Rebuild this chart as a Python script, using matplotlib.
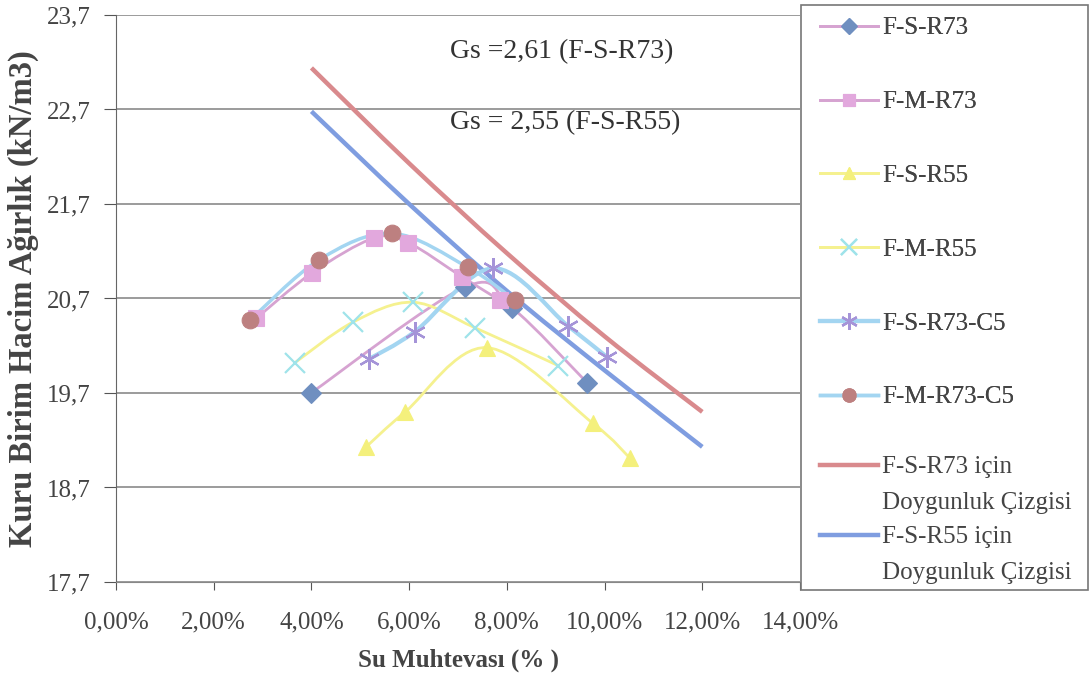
import numpy as np
import matplotlib
matplotlib.use('Agg')
import matplotlib.pyplot as plt
from matplotlib.path import Path
from matplotlib.patches import PathPatch, Rectangle
from matplotlib.lines import Line2D
from matplotlib.ticker import FuncFormatter, MultipleLocator

plt.rcParams['font.family'] = ['Liberation Serif', 'DejaVu Serif']

### Kompaksiyon egrileri: su muhtevasi (%) - kuru birim hacim agirlik (kN/m3) ###

fs_r73_w = [3.99, 7.14, 8.11, 9.64]
fs_r73_g = [19.70, 20.82, 20.60, 19.81]

fm_r73_w = [2.87, 4.01, 5.28, 5.98, 7.08, 7.86]
fm_r73_g = [20.49, 20.97, 21.34, 21.29, 20.93, 20.68]

fs_r55_w = [5.12, 5.92, 7.59, 9.76, 10.52]
fs_r55_g = [19.13, 19.50, 20.18, 19.38, 19.01]

fm_r55_w = [3.66, 4.85, 6.08, 7.35, 9.05]
fm_r55_g = [20.02, 20.45, 20.66, 20.39, 19.99]

fs_r73_c5_w = [5.18, 6.12, 7.72, 9.25, 10.05]
fs_r73_c5_g = [20.06, 20.35, 21.02, 20.41, 20.08]

fm_r73_c5_w = [2.74, 4.16, 5.65, 7.20, 8.17]
fm_r73_c5_g = [20.47, 21.11, 21.39, 21.03, 20.68]

# doygunluk cizgileri
sat_w = [4, 6, 8, 10, 12]
sat_r73_g = [23.14, 22.13, 21.18, 20.30, 19.50]
sat_r55_g = [22.68, 21.70, 20.78, 19.94, 19.13]

pink = '#d6a3d1'
yellow = '#f5f18f'
lblue = '#a3d5f1'

series = [
    # label, w, g, line colour, line width, marker, marker colour, marker size
    ('F-S-R73', fs_r73_w, fs_r73_g, pink, 2.0, 'D', '#6f8fc0', 10),
    ('F-M-R73', fm_r73_w, fm_r73_g, pink, 2.0, 's', '#e2a8dd', 11),
    ('F-S-R55', fs_r55_w, fs_r55_g, yellow, 2.0, '^', '#f4f07c', 11),
    ('F-M-R55', fm_r55_w, fm_r55_g, yellow, 2.0, 'x', '#9fe3ea', 14),
    ('F-S-R73-C5', fs_r73_c5_w, fs_r73_c5_g, lblue, 3.0, (6, 2, 0), '#a594d8', 15),
    ('F-M-R73-C5', fm_r73_c5_w, fm_r73_c5_g, lblue, 2.5, 'o', '#bd8080', 12),
]


def smooth_path(x, y):
    # bezier egrisi, her noktada komsu noktalara gore teget
    pts = np.column_stack([x, y]).astype(float)
    n = len(pts)
    verts = [pts[0]]
    codes = [Path.MOVETO]
    for i in range(n - 1):
        p0 = pts[i - 1] if i > 0 else pts[i]
        p1 = pts[i]
        p2 = pts[i + 1]
        p3 = pts[i + 2] if i + 2 < n else pts[i + 1]
        verts += [p1 + (p2 - p0) / 6, p2 - (p3 - p1) / 6, p2]
        codes += [Path.CURVE4] * 3
    return Path(verts, codes)


fig = plt.figure(figsize=(10.92, 6.83), dpi=100)
ax = fig.add_axes([116 / 1092, 1 - 582 / 683, 684 / 1092, 567 / 683])

ax.add_patch(PathPatch(smooth_path(sat_w, sat_r73_g), fc='none', ec='#d98a8d', lw=3.2, zorder=2))
ax.add_patch(PathPatch(smooth_path(sat_w, sat_r55_g), fc='none', ec='#7f9de0', lw=3.2, zorder=2))

handles = []
for lab, w, g, lc, lw, mk, mc, ms in series:
    ax.add_patch(PathPatch(smooth_path(w, g), fc='none', ec=lc, lw=lw, zorder=3))
    mew = 1.6 if mk in ('x', (6, 2, 0)) else 0.8
    ax.plot(w, g, linestyle='none', marker=mk, markersize=ms, color=mc,
            markeredgecolor=mc, markeredgewidth=mew, zorder=4)
    handles.append(Line2D([], [], color=lc, lw=lw, marker=mk, markersize=ms * 0.8,
                          markerfacecolor=mc, markeredgecolor=mc, markeredgewidth=mew))

ax.set_xlim(0, 14)
ax.set_ylim(17.7, 23.7)
ax.xaxis.set_major_locator(MultipleLocator(2))
ax.set_yticks(np.arange(17.7, 23.75, 1.0))
ax.xaxis.set_major_formatter(FuncFormatter(lambda v, p: f'{v:.2f}%'.replace('.', ',')))
ax.yaxis.set_major_formatter(FuncFormatter(lambda v, p: f'{v:.1f}'.replace('.', ',')))
ax.tick_params(axis='x', labelsize=18, length=6, pad=15, colors='#555555', labelcolor='#444444')
ax.tick_params(axis='y', labelsize=18, length=9, pad=9, colors='#555555', labelcolor='#444444')
ax.grid(axis='y', color='#8a8a8a', lw=1.2, zorder=1)
for s in ['top', 'right']:
    ax.spines[s].set_visible(False)
ax.spines['left'].set_color('#666666')
ax.spines['bottom'].set_color('#888888')

ax.set_xlabel('Su Muhtevası (% )', fontsize=18, fontweight='bold', color='#444444', labelpad=11)
ax.set_ylabel('Kuru Birim Hacim Ağırlık (kN/m3)', fontsize=23.5, fontweight='bold', color='#444444', labelpad=6)

ax.text(6.84, 23.31, 'Gs =2,61 (F-S-R73)', fontsize=20, color='#333333', va='center', ha='left')
ax.text(6.84, 22.56, 'Gs = 2,55 (F-S-R55)', fontsize=20, color='#333333', va='center', ha='left')

# lejant
leg1 = fig.legend(handles, [h[0] for h in series], loc='upper left',
                  bbox_to_anchor=(820 / 1092, 1 - 17 / 683), frameon=False,
                  fontsize=18, labelspacing=2.05, handlelength=2.3, handletextpad=0.2,
                  borderpad=0, borderaxespad=0, labelcolor='#444444')
sat_handles = [Line2D([], [], color='#d98a8d', lw=3.2), Line2D([], [], lw=0),
               Line2D([], [], color='#7f9de0', lw=3.2), Line2D([], [], lw=0)]
leg2 = fig.legend(sat_handles, ['F-S-R73 için', 'Doygunluk Çizgisi', 'F-S-R55 için', 'Doygunluk Çizgisi'],
                  loc='upper left', bbox_to_anchor=(820 / 1092, 1 - 456 / 683), frameon=False,
                  fontsize=18, labelspacing=0.5, handlelength=2.3, handletextpad=0.2,
                  borderpad=0, borderaxespad=0, labelcolor='#444444')
fig.add_artist(leg1)
fig.patches.append(Rectangle((801 / 1092, 1 - 590 / 683), 287 / 1092, 585 / 683,
                             transform=fig.transFigure, fill=False, ec='#777777', lw=1.2))

fig.savefig('out.png', dpi=100)
